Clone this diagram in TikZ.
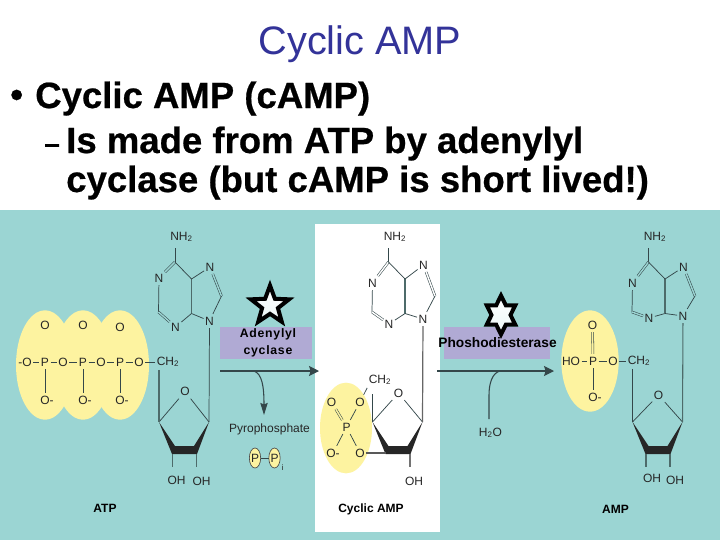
\documentclass[tikz,border=0pt]{standalone}
\usepackage{fontspec}
\setmainfont{Liberation Sans}
\newfontfamily\lsbold[LetterSpace=6]{Liberation Sans Bold}
\newfontfamily\headfont[FakeBold=0.6]{Liberation Sans Bold}
\usetikzlibrary{shapes.geometric,arrows.meta,calc}
\definecolor{tealbg}{HTML}{9BD5D3}
\definecolor{yellowbg}{HTML}{FDF3A0}
\definecolor{purplebg}{HTML}{B0AAD4}
\definecolor{titleblue}{HTML}{333399}
\definecolor{bondc}{HTML}{34474A}
\tikzset{
 atom/.style={inner xsep=1pt,inner ysep=2pt,font=\fontsize{9}{10}\selectfont,text=black!85},
 lab/.style={inner sep=0pt,font=\fontsize{9}{10}\selectfont,text=black!85},
 boldlab/.style={inner sep=0pt,font=\fontsize{9}{10}\selectfont\bfseries},
 bond/.style={line width=.55pt,draw=bondc},
 greybond/.style={line width=.8pt,draw=black!50!tealbg},
 dbl/.style={line width=.4pt,draw=bondc,double=#1,double distance=1.1pt},
 react/.style={line width=.8pt,draw=bondc,-{Stealth[length=7.5pt,width=7.5pt,inset=1.2pt]}},
 heading/.style={inner sep=0pt,anchor=base west,font=\fontsize{27.4}{30}\headfont},
 blob/.style={ellipse,fill=yellowbg,inner sep=0pt,draw=none},
 enzbox/.style={fill=purplebg,inner sep=0pt,anchor=north west},
 starmark/.style={star,line width=3pt,draw=black,top color=white,bottom color=white!80!tealbg,inner sep=0pt,line join=miter},
}
% prefix, C6 x, N1 y, N3 y, N7 y, N9 y, background
\newcommand{\Aden}[7]{%
 \coordinate (#1c6) at (#2,262);
 \coordinate (#1c5) at ($(#1c6)+(16.5,17)$);
 \coordinate (#1c4) at ($(#1c6)+(16.5,51.5)$);
 \coordinate (#1c2) at ($(#1c6)+(-16.5,50)$);
 \coordinate (#1c8) at ($(#1c6)+(46.5,34)$);
 \node[atom] (#1nh) at ($(#1c6)+(6.5,-25)$) {NH\textsubscript{2}};
 \node[atom] (#1n1) at ($(#1c6)+(-16,0)+(0,#3-262)$) {N};
 \node[atom] (#1n3) at ($(#1c6)+(0.5,0)+(0,#4-262)$) {N};
 \node[atom] (#1n7) at ($(#1c6)+(35,0)+(0,#5-262)$) {N};
 \node[atom] (#1n9) at ($(#1c6)+(34.5,0)+(0,#6-262)$) {N};
 \draw[bond] (#1c6) -- ($(#1c6)+(0,-14)$);
 \draw[dbl=#7] (#1c6) -- (#1n1);
 \draw[bond] (#1n1) -- (#1c2);
 \draw[dbl=#7] (#1c2) -- (#1n3);
 \draw[bond] (#1n3) -- (#1c4);
 \draw[greybond,line width=1pt] (#1c4) -- (#1c5);
 \draw[bond] (#1c5) -- (#1c6);
 \draw[bond] (#1c5) -- (#1n7);
 \draw[dbl=#7] (#1n7) -- (#1c8);
 \draw[bond] (#1c8) -- (#1n9);
 \draw[bond] (#1c4) -- (#1n9);
}
% prefix, left vertex x, O y
\newcommand{\Sugar}[3]{%
 \coordinate (#1l) at (#2,422);
 \coordinate (#1r) at ($(#1l)+(50,0)$);
 \coordinate (#1bl) at ($(#1l)+(13.5,32)$);
 \coordinate (#1br) at ($(#1l)+(37.5,32)$);
 \node[atom] (#1o) at ($(#1l)+(26,0)+(0,#3-422)$) {O};
 \draw[bond] (#1o) -- (#1l);
 \draw[bond] (#1o) -- (#1r);
 \fill[black!85] (#1l) -- ($(#1l)+(16,24)$) -- ($(#1l)+(35,24)$) -- (#1r) -- ($(#1l)+(38,32)$) -- ($(#1l)+(13,32)$) -- cycle;
}
\begin{document}
\begin{tikzpicture}[x=.75pt,y=-.75pt]
\useasboundingbox (0,0) rectangle (720,540);
\fill[tealbg] (0,210) rectangle (720,540);
\fill[white] (315,224) rectangle (440,532);

% headings
\node[inner sep=0pt,anchor=base,text=titleblue,font=\fontsize{29.8}{32}\selectfont] (title) at (360,54) {Cyclic AMP};
\node[heading] (bul) at (10,107) {•};
\node[heading] (h1) at (35,108) {Cyclic AMP (cAMP)};
\node[heading,font=\fontsize{21}{24}\headfont] (dash) at (44,153) {–};
\node[heading] (h2) at (66,153) {Is made from ATP by adenylyl};
\node[heading] (h3) at (66,192) {cyclase (but cAMP is short lived!)};

% yellow blobs
\node[blob,minimum width=43.5pt,minimum height=82pt] (y1) at (45,365) {};
\node[blob,minimum width=43.5pt,minimum height=82pt] (y2) at (83,365) {};
\node[blob,minimum width=43.5pt,minimum height=82pt] (y3) at (120,365) {};
\node[blob,minimum width=39pt,minimum height=68pt] (y4) at (346,428) {};
\node[blob,minimum width=43pt,minimum height=76pt] (y5) at (590,361) {};

% enzyme boxes
\node[enzbox,minimum width=69pt,minimum height=24pt] (box1) at (220,327) {};
\node[enzbox,minimum width=79pt,minimum height=24pt] (box2) at (444,327) {};
\node[boldlab,align=center,font=\fontsize{9.2}{12.4}\lsbold] (adc) at (268,343) {Adenylyl\\cyclase};
\node[boldlab,font=\fontsize{10.3}{12}\selectfont\bfseries] (pde) at (497.5,343) {Phoshodiesterase};
\node[starmark,star points=5,star point ratio=2.4,minimum size=30pt] (star1) at (270,305.5) {};
\node[starmark,star points=6,star point ratio=1.73,minimum size=26pt,transform shape,yscale=1.12,xscale=.95] (star2) at (501,315) {};

% adenines
\Aden{a}{175}{278}{327}{267}{321}{tealbg}
\Aden{b}{388.5}{283}{324}{265}{319}{white}
\Aden{c}{648.5}{283}{318}{267}{316}{tealbg}

% sugars
\Sugar{as}{159}{391.5}
\Sugar{bs}{372.5}{393}
\Sugar{cs}{632.5}{395}

% ATP phosphates
\foreach \n/\x/\ty in {p1/45/325,p2/83/325,p3/120/327}{
 \node[atom] (\n) at (\x,362) {P};
 \node[atom] (\n t) at (\x,\ty) {O};
 \node[atom] (\n b) at (\x+2,400) {O-};
 \draw[dbl=yellowbg] (\n t) -- (\n);
 \draw[bond] (\n) -- (\n|-\n b.north);
}
\node[atom] (o0) at (25,362) {-O};
\node[atom] (o1) at (63,362) {O};
\node[atom] (o2) at (101,362) {O};
\node[atom] (o3) at (139,362) {O};
\node[atom] (ch1) at (168,362) {CH\textsubscript{2}};
\draw[bond] (o0) -- (p1); \draw[bond] (p1) -- (o1); \draw[bond] (o1) -- (p2);
\draw[bond] (p2) -- (o2); \draw[bond] (o2) -- (p3); \draw[bond] (p3) -- (o3);
\draw[bond] (o3) -- (ch1);
\draw[greybond] (ch1.south -| asl) -- (asl);
\draw[bond] (an9) -- (asr);
\draw[greybond] (asbl) -- ++(0,13);
\draw[greybond] (asbr) -- ++(0,13);
\node[atom] at (176.5,480) (oh1) {OH};
\node[atom] at (201.5,481) (oh2) {OH};
\node[boldlab] (atp) at (105,508) {ATP};

% reaction 1
\coordinate (r1s) at (220,371);
\coordinate (r1e) at (319,371);
\draw[react] (r1s) -- (r1e);
\node[lab] (pyro) at (269.5,429) {Pyrophosphate};
\coordinate (r1b) at (254,371);
\coordinate (r1f) at (264,415);
\draw[react,-{Stealth[length=9pt,width=5.5pt,inset=1pt]}] (r1b) .. controls (262,374) and (264,386) .. (r1f);
\node[blob,draw=black!70,line width=.5pt,minimum width=8.5pt,minimum height=15pt] (pa) at (255,458) {};
\node[blob,draw=black!70,line width=.5pt,minimum width=8.5pt,minimum height=15pt] (pb) at (274.5,458) {};
\node[lab] at (pa) {P};
\node[lab] at (pb) {P};
\draw[bond] (pa) -- (pb);
\node[lab,font=\fontsize{6}{7}\selectfont] (pi) at (282.5,468) {i};

% cyclic AMP
\node[atom] (cp) at (346.5,427) {P};
\node[atom] (co1) at (331.5,402) {O};
\node[atom] (co2) at (360,402) {O};
\node[atom] (co3) at (333,453) {O-};
\node[atom] (co4) at (360,453) {O};
\node[atom] (ch2) at (380,380) {CH\textsubscript{2}};
\draw[dbl=yellowbg] (co1) -- (cp);
\draw[bond] (co2) -- (cp);
\draw[bond] (co3) -- (cp);
\draw[bond] (co4) -- (cp);
\draw[bond] (co2) -- (ch2.south west);
\draw[bond] (bsl) -- ++(0,-28);
\draw[line width=.9pt,draw=black!60] (bn9) -- (bsr);
\draw[line width=1.2pt,draw=black!65] (co4) -- (bsbl|-co4);
\draw[line width=.8pt,draw=black!55] (bsbr) -- ++(0,13);
\node[atom] (oh3) at (414,481) {OH};
\node[boldlab] (camp) at (371,509) {Cyclic AMP};

% reaction 2
\coordinate (r2s) at (437,371);
\coordinate (r2e) at (554,371);
\draw[react] (r2s) -- (r2e);
\coordinate (r2b) at (500,371);
\coordinate (r2f) at (489,419);
\draw[bond,line width=.8pt] (r2b) .. controls (492,373) and (489,384) .. (489,395) -- (r2f);
\node[lab] (h2o) at (490.5,433) {H\textsubscript{2}O};

% AMP phosphate
\node[atom] (dp) at (593,361) {P};
\node[atom] (dt) at (592.5,325) {O};
\node[atom] (dho) at (571,361) {HO};
\node[atom] (do) at (613,361) {O};
\node[atom] (ch3) at (639,361) {CH\textsubscript{2}};
\node[atom] (db) at (595,397) {O-};
\draw[dbl=yellowbg] (dt) -- (dp);
\draw[bond] (dho) -- (dp); \draw[bond] (dp) -- (do); \draw[bond] (do) -- (ch3);
\draw[bond] (dp) -- (dp|-db.north);
\draw[bond] (ch3.south -| csl) -- (csl);
\draw[greybond] (cn9) -- (csr);
\draw[greybond] (csbl) -- ++(0,13);
\draw[greybond] (csbr) -- ++(0,13);
\node[atom] (oh4) at (652,478) {OH};
\node[atom] (oh5) at (675,480) {OH};
\node[boldlab] (amp) at (615.5,509) {AMP};
\end{tikzpicture}
\end{document}
